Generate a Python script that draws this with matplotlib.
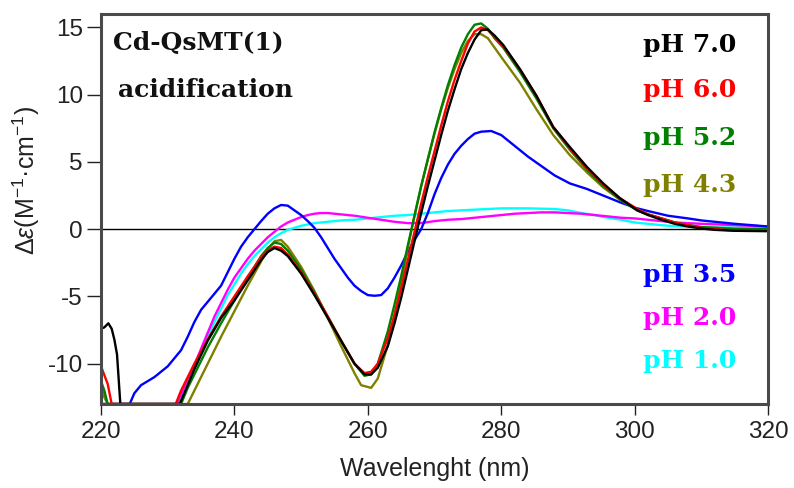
import matplotlib
matplotlib.use("Agg")
import matplotlib.pyplot as plt

plt.rcParams['font.family'] = ['Liberation Sans', 'DejaVu Sans']
plt.rcParams['mathtext.fontset'] = 'custom'
plt.rcParams['mathtext.rm'] = 'Liberation Sans'
plt.rcParams['mathtext.it'] = 'Liberation Sans:italic'
plt.rcParams['axes.unicode_minus'] = False

# CD spectra of Cd-QsMT(1) along acidification
wl_70 = [220, 220.5, 221.1, 221.6, 222, 222.4, 222.9, 231.8, 232.5, 234, 236, 238, 240, 242, 244, 245,
         246, 247, 248, 250, 252, 254, 256, 258, 259.5, 260.5, 261.5, 263, 264, 265, 266, 267, 268, 269,
         270, 271, 272, 273, 274, 275, 276, 277, 278, 279, 280.3, 282.8, 285.3, 287.8, 290.3, 292.9,
         295.3, 297.8, 300.4, 302, 304, 306, 308, 310, 312, 315, 320]
cd_70 = [-7.4, -7.3, -7.0, -7.4, -8.2, -9.3, -13, -13, -12.2, -10.4, -8.3, -6.6, -5.3, -3.8, -2.3, -1.7,
         -1.4, -1.6, -2.0, -3.3, -4.9, -6.6, -8.3, -10.0, -10.8, -10.8, -10.3, -8.7, -7.0, -5.1, -3.0, -0.9, 1.2, 3.2,
         5.1, 7.0, 8.8, 10.4, 11.9, 13.1, 14.1, 14.8, 14.85, 14.4, 13.7, 11.9, 9.9, 7.6, 6.1, 4.6,
         3.4, 2.3, 1.4, 1.05, 0.7, 0.4, 0.2, 0.05, -0.05, -0.12, -0.15]

wl_60 = [220, 221, 221.6, 231.2, 232, 234, 236, 238, 240, 242, 244, 245, 246, 247, 248, 250, 252, 254,
         256, 258, 259.5, 260.5, 261.5, 263, 264, 265, 266, 267, 268, 269, 270, 271, 272, 273, 274, 275,
         276, 277, 278, 279, 280.3, 282.8, 285.3, 287.8, 290.3, 292.9, 295.3, 297.8, 300.4, 302, 304,
         306, 308, 310, 312, 315, 320]
cd_60 = [-10.2, -11.5, -13, -13, -12.0, -10.0, -8.2, -6.5, -5.0, -3.5, -2.1, -1.6, -1.3, -1.4, -1.9, -3.2, -4.8, -6.5,
         -8.3, -10.0, -10.7, -10.6, -10.0, -8.1, -6.4, -4.4, -2.3, -0.2, 1.9, 3.9, 5.8, 7.7, 9.5, 11.1, 12.5, 13.8,
         14.7, 15.0, 14.8, 14.3, 13.6, 11.9, 9.9, 7.6, 6.0, 4.5, 3.3, 2.3, 1.5, 1.1, 0.8,
         0.5, 0.3, 0.1, 0.0, -0.1, -0.1]

wl_52 = [220, 220.5, 221, 232, 233, 234, 236, 238, 240, 242, 244, 245, 246, 247, 248, 250, 252, 254, 256,
         258, 259.5, 260.5, 261.5, 263, 264, 265, 266, 267, 268, 269, 270, 271, 272, 273, 274, 275, 276,
         277, 278, 279, 280.3, 282.8, 285.3, 287.8, 290.3, 292.9, 295.3, 297.8, 300.4, 302, 304, 306,
         308, 310, 315, 320]
cd_52 = [-11.3, -12.0, -13, -13, -11.8, -10.8, -8.8, -7.0, -5.3, -3.6, -2.0, -1.4, -1.0, -1.1, -1.6, -3.0, -4.7, -6.5, -8.3,
         -10.0, -10.9, -10.8, -10.0, -7.6, -5.6, -3.5, -1.2, 1.0, 3.2, 5.2, 7.2, 9.0, 10.7, 12.2, 13.5, 14.5, 15.2,
         15.3, 14.9, 14.2, 13.5, 11.7, 9.7, 7.5, 5.9, 4.4, 3.2, 2.2, 1.4, 1.1, 0.8, 0.5,
         0.3, 0.15, 0.0, 0.0]

wl_43 = [220, 220.5, 221, 233, 234, 236, 238, 240, 242, 244, 245, 246, 247, 248, 250, 252, 254, 256, 258,
         259, 260.5, 261.5, 263, 264, 265, 266, 267, 268, 269, 270, 271, 272, 273, 274, 275, 276, 277,
         278, 279, 280.3, 282.8, 285.3, 287.8, 290.3, 292.9, 295.3, 297.8, 300.4, 302, 304, 306, 308,
         310, 315, 320]
cd_43 = [-11.7, -12.5, -13, -13, -12.0, -10.0, -8.0, -6.1, -4.2, -2.4, -1.5, -0.9, -0.8, -1.3, -2.8, -4.6, -6.6, -8.7, -10.7,
         -11.6, -11.8, -11.1, -8.6, -6.4, -4.0, -1.4, 1.0, 3.2, 5.2, 7.1, 8.9, 10.5, 11.9, 13.1, 14.0, 14.5, 14.5,
         14.2, 13.5, 12.6, 10.9, 8.9, 7.0, 5.5, 4.2, 3.1, 2.2, 1.4, 1.1, 0.8, 0.5, 0.3,
         0.15, 0.05, 0.0]

wl_35 = [220, 224.3, 225, 226, 227, 228, 229, 230, 231, 232, 233, 234, 235, 236, 237, 238, 239, 240, 241,
         242, 243, 244, 245, 246, 247, 248, 249, 250, 251, 252, 253, 254, 255, 256, 257, 258, 259, 260,
         261, 262, 263, 264, 265, 266, 267, 268, 269, 270, 271, 272, 273, 274, 275, 276, 277, 278.5,
         280, 282, 284, 286, 288, 290.3, 292.8, 295.3, 297.8, 300, 302, 305, 308, 310, 315, 320]
cd_35 = [-13, -13, -12.2, -11.6, -11.3, -11.0, -10.6, -10.2, -9.6, -9.0, -8.0, -6.9, -6.0, -5.4, -4.8, -4.2, -3.2, -2.2, -1.3,
         -0.6, 0.0, 0.6, 1.15, 1.55, 1.8, 1.75, 1.4, 1.05, 0.6, 0.1, -0.6, -1.4, -2.2, -2.9, -3.6, -4.2, -4.6, -4.9,
         -4.95, -4.9, -4.4, -3.6, -2.7, -1.7, -0.8, 0.0, 1.2, 2.6, 3.8, 4.8, 5.6, 6.2, 6.7, 7.1, 7.25, 7.3,
         7.0, 6.2, 5.4, 4.7, 4.0, 3.4, 3.0, 2.5, 2.0, 1.6, 1.35, 1.0, 0.8, 0.65, 0.4, 0.2]

wl_20 = [220, 231.4, 232, 233, 234, 235, 236, 237, 238, 239, 240, 241, 242, 243, 244, 245, 246, 247, 248,
         249, 250, 251, 252, 253, 254, 256, 258, 260, 262, 264, 266, 268, 270, 272, 274, 276, 278, 280,
         282, 284, 286, 288, 290, 292, 294, 296, 298, 300, 303, 306, 310, 315, 320]
cd_20 = [-13, -13, -12.3, -11.2, -10.1, -8.9, -7.7, -6.5, -5.5, -4.5, -3.6, -2.9, -2.2, -1.6, -1.1, -0.6, -0.2, 0.2, 0.5,
         0.7, 0.9, 1.05, 1.15, 1.2, 1.2, 1.1, 1.0, 0.85, 0.7, 0.55, 0.45, 0.45, 0.6, 0.7, 0.75, 0.85, 0.95, 1.05,
         1.15, 1.2, 1.25, 1.25, 1.2, 1.15, 1.05, 0.95, 0.85, 0.8, 0.65, 0.5, 0.4, 0.3, 0.2]

wl_10 = [220, 231.6, 232.3, 233, 234, 235, 236, 237, 238, 239, 240, 241, 242, 243, 244, 245, 246, 247,
         248, 249, 250, 252, 254, 256, 258, 260, 262, 264, 266, 268, 270, 272, 274, 276, 278, 280, 284,
         288, 290, 292, 294, 296, 298, 300, 302, 304, 306, 310, 315, 320]
cd_10 = [-13, -13, -12.2, -11.4, -10.3, -9.2, -8.0, -6.9, -5.9, -4.9, -4.1, -3.3, -2.6, -2.0, -1.5, -1.0, -0.6, -0.3,
         -0.05, 0.1, 0.25, 0.45, 0.55, 0.65, 0.7, 0.8, 0.9, 1.0, 1.05, 1.15, 1.25, 1.35, 1.4, 1.45, 1.5, 1.55, 1.55,
         1.5, 1.4, 1.2, 1.05, 0.85, 0.7, 0.5, 0.4, 0.3, 0.22, 0.15, 0.12, 0.1]

series = [
    ('pH 1.0', wl_10, cd_10, '#00ffff'),
    ('pH 2.0', wl_20, cd_20, '#ff00ff'),
    ('pH 3.5', wl_35, cd_35, '#0000ff'),
    ('pH 4.3', wl_43, cd_43, '#808000'),
    ('pH 5.2', wl_52, cd_52, '#008000'),
    ('pH 6.0', wl_60, cd_60, '#ff0000'),
    ('pH 7.0', wl_70, cd_70, '#000000'),
]

# label positions (axes fraction) for the pH tags, top to bottom
label_order = ['pH 7.0', 'pH 6.0', 'pH 5.2', 'pH 4.3', 'pH 3.5', 'pH 2.0', 'pH 1.0']
label_y = [0.903, 0.787, 0.664, 0.544, 0.313, 0.203, 0.092]

fig = plt.figure(figsize=(7.94, 4.88), dpi=100)
ax = fig.add_axes([0.1272, 0.1721, 0.8401, 0.7992])

ax.axhline(0, color='black', lw=1.0, zorder=1)
colors = {}
for name, x, y, c in series:
    ax.plot(x, y, color=c, lw=1.7, zorder=2)
    colors[name] = c

ax.set_xlim(220, 320)
ax.set_ylim(-13, 16)
ax.set_xticks([220, 240, 260, 280, 300, 320])
ax.set_yticks([-10, -5, 0, 5, 10, 15])
ax.tick_params(axis='both', direction='out', labelsize=17.5, colors='#222222', width=1.0)
ax.tick_params(axis='x', length=8, pad=4)
ax.tick_params(axis='y', length=10, pad=3)
for s in ax.spines.values():
    s.set_linewidth(2.2)
    s.set_color('#4a4a4a')

ax.set_xlabel('Wavelenght (nm)', fontsize=18, color='#222222')
ax.xaxis.set_label_coords(0.5, -0.135)
ax.set_ylabel(r'$\Delta\varepsilon$(M$^{-1}$·cm$^{-1}$)', fontsize=18, color='#222222')
ax.yaxis.set_label_coords(-0.088, 0.574)

tfont = dict(family=['DejaVu Serif'], weight='bold', fontsize=18)
ax.text(0.018, 0.908, 'Cd-QsMT(1)', transform=ax.transAxes, color='#111111', **tfont)
ax.text(0.0255, 0.787, 'acidification', transform=ax.transAxes, color='#111111', **tfont)
for name, yy in zip(label_order, label_y):
    ax.text(0.882, yy, name, transform=ax.transAxes, ha='center', va='baseline',
            color=colors[name], **tfont)

fig.savefig('out.png', dpi=100)
